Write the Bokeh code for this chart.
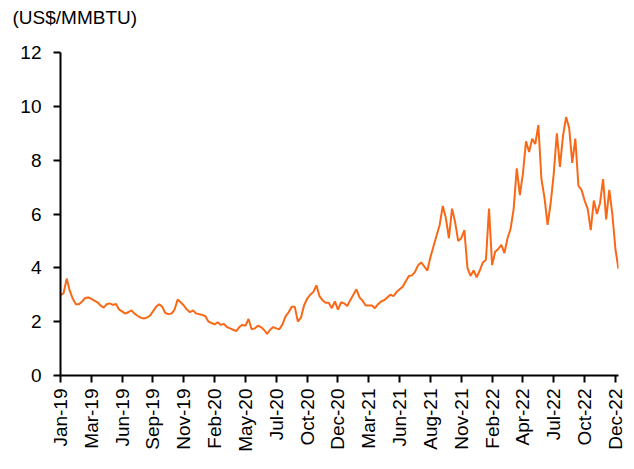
from bokeh.plotting import figure
from bokeh.models import Range1d, FixedTicker, Title
from bokeh.embed import file_html
from bokeh.resources import INLINE
import math

# Front-month natural gas price (US$/MMBTU), sampled ~every 5 trading days (10 samples per tick interval)
price = [
    # Jan-19 .. Mar-19
    3.00, 3.05, 3.60, 3.15, 2.85, 2.65, 2.65, 2.75, 2.88, 2.90,
    # Mar-19 .. Jun-19
    2.85, 2.78, 2.72, 2.60, 2.52, 2.65, 2.68, 2.62, 2.66, 2.45,
    # Jun-19 .. Sep-19
    2.38, 2.30, 2.35, 2.42, 2.30, 2.22, 2.15, 2.12, 2.15, 2.22,
    # Sep-19 .. Nov-19
    2.38, 2.55, 2.65, 2.55, 2.32, 2.28, 2.30, 2.45, 2.82, 2.72,
    # Nov-19 .. Feb-20
    2.60, 2.45, 2.35, 2.42, 2.30, 2.28, 2.25, 2.20, 2.00, 1.95,
    # Feb-20 .. May-20
    1.90, 1.98, 1.88, 1.92, 1.80, 1.75, 1.70, 1.65, 1.80, 1.88,
    # May-20 .. Jul-20
    1.85, 2.10, 1.72, 1.75, 1.85, 1.80, 1.70, 1.55, 1.70, 1.80,
    # Jul-20 .. Oct-20
    1.75, 1.72, 1.90, 2.20, 2.35, 2.55, 2.55, 2.00, 2.15, 2.60,
    # Oct-20 .. Dec-20
    2.85, 3.00, 3.10, 3.35, 2.95, 2.80, 2.70, 2.70, 2.50, 2.75,
    # Dec-20 .. Mar-21
    2.45, 2.72, 2.68, 2.58, 2.80, 3.00, 3.20, 2.90, 2.78, 2.60,
    # Mar-21 .. Jun-21
    2.60, 2.60, 2.50, 2.65, 2.75, 2.80, 2.90, 3.00, 2.95, 3.10,
    # Jun-21 .. Aug-21
    3.20, 3.30, 3.50, 3.70, 3.72, 3.85, 4.10, 4.20, 4.05, 3.90,
    # Aug-21 .. Nov-21
    4.40, 4.80, 5.20, 5.60, 6.30, 5.85, 5.10, 6.20, 5.70, 5.00,
    # Nov-21 .. Feb-22
    5.10, 5.40, 4.00, 3.70, 3.90, 3.65, 3.90, 4.20, 4.30, 6.20,
    # Feb-22 .. Apr-22
    4.10, 4.60, 4.70, 4.85, 4.55, 5.10, 5.45, 6.20, 7.70, 6.70,
    # Apr-22 .. Jul-22
    7.50, 8.70, 8.30, 8.80, 8.60, 9.30, 7.30, 6.60, 5.60, 6.40,
    # Jul-22 .. Oct-22
    7.50, 9.00, 7.75, 8.90, 9.60, 9.20, 7.90, 8.80, 7.05, 6.90,
    # Oct-22 .. Dec-22
    6.50, 6.20, 5.40, 6.50, 6.00, 6.40, 7.30, 5.80, 6.90, 6.00,
    # Dec-22
    4.70, 3.95,
]

tick_labels = ["Jan-19", "Mar-19", "Jun-19", "Sep-19", "Nov-19", "Feb-20", "May-20",
               "Jul-20", "Oct-20", "Dec-20", "Mar-21", "Jun-21", "Aug-21", "Nov-21",
               "Feb-22", "Apr-22", "Jul-22", "Oct-22", "Dec-22"]
samples_per_tick = 10
y_ticks = [0, 2, 4, 6, 8, 10, 12]
unit_text = "(US$/MMBTU)"

xs = list(range(len(price)))
tick_pos = [i * samples_per_tick for i in range(len(tick_labels))]

FONT = "Liberation Sans"
FS = "19px"

p = figure(width=626, height=461, output_backend="svg", toolbar_location=None,
           x_range=Range1d(0, 181), y_range=Range1d(0, 12),
           min_border_left=60, min_border_right=8, min_border_top=52, min_border_bottom=86)

p.line(xs, price, line_color="#F86816", line_width=2)

p.xgrid.visible = False
p.ygrid.visible = False
p.outline_line_color = None
p.background_fill_color = "white"

for ax in (p.xaxis[0], p.yaxis[0]):
    ax.axis_line_color = "black"
    ax.axis_line_width = 2
    ax.major_tick_line_color = "black"
    ax.major_tick_line_width = 2
    ax.major_tick_in = 0
    ax.major_tick_out = 7
    ax.minor_tick_line_color = None
    ax.major_label_text_font = FONT
    ax.major_label_text_font_size = FS
    ax.major_label_text_color = "black"

p.xaxis[0].ticker = FixedTicker(ticks=tick_pos)
p.xaxis[0].major_label_overrides = {pos: lab for pos, lab in zip(tick_pos, tick_labels)}
p.xaxis[0].major_label_orientation = math.pi / 2
p.xaxis[0].major_label_standoff = 6

p.yaxis[0].ticker = FixedTicker(ticks=y_ticks)
p.yaxis[0].major_label_standoff = 12

# second (blank) line lifts the unit text towards the top of the page
t = Title(text=unit_text + "\n ", align="left", offset=-48, standoff=8,
          text_font=FONT, text_font_size=FS, text_font_style="normal", text_color="black",
          text_line_height=1.0)
p.add_layout(t, "above")

open("out.html", "w").write(file_html(p, INLINE))
